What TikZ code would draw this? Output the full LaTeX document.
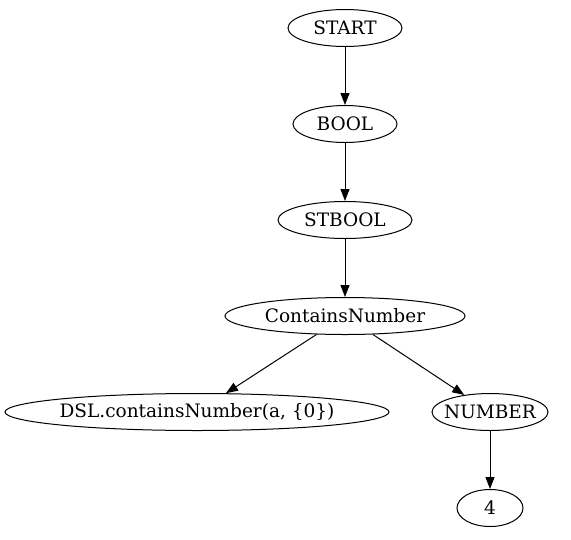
\documentclass[tikz,border=0pt]{standalone}
\usepackage{fontspec}
\setmainfont{DejaVu Serif}
\usetikzlibrary{shapes.geometric,arrows.meta}
\begin{document}
\begin{tikzpicture}[x=1pt,y=-1pt,
  nd/.style={draw,ellipse,inner sep=0pt,minimum height=37pt,font=\fontsize{18.5}{22}\selectfont,line width=1pt},
  ed/.style={-{Triangle[length=12pt,width=9pt]},line width=1pt}]
\useasboundingbox (0,0) rectangle (571,539);
\node[nd,minimum width=114pt] (start) at (345,28) {\makebox[0pt]{START}};
\node[nd,minimum width=104pt] (bool) at (345,124) {\makebox[0pt]{BOOL}};
\node[nd,minimum width=134pt] (stbool) at (345,220) {\makebox[0pt]{STBOOL}};
\node[nd,minimum width=240pt] (cn) at (345,316) {\makebox[0pt]{ContainsNumber}};
\node[nd,minimum width=384pt] (dsl) at (197,412) {\makebox[0pt]{DSL.containsNumber(a, \{0\})}};
\node[nd,minimum width=116pt] (num) at (490,412) {\makebox[0pt]{NUMBER}};
\node[nd,minimum width=66pt] (four) at (490,508) {\makebox[0pt]{4}};
\draw[ed] (start) -- (bool);
\draw[ed] (bool) -- (stbool);
\draw[ed] (stbool) -- (cn);
\draw[ed] (cn) -- (dsl);
\draw[ed] (cn) -- (num);
\draw[ed] (num) -- (four);
\end{tikzpicture}
\end{document}
